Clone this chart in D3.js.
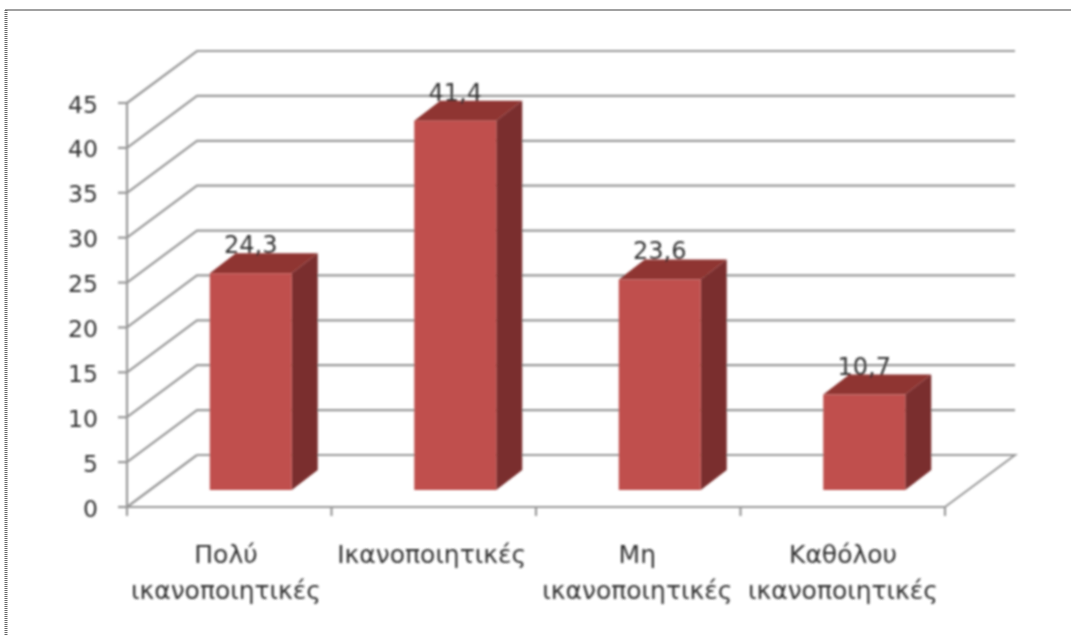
<!DOCTYPE html>
<html><head><meta charset="utf-8">
<script src="https://cdn.jsdelivr.net/npm/d3@7"></script>
<style>html,body{margin:0;padding:0;background:#fff}svg{display:block}text{font-family:"DejaVu Sans",sans-serif;fill:#333}</style>
</head><body><svg id="c" width="1071" height="636"></svg>
<script>
const categories=[["Πολύ","ικανοποιητικές"],["Ικανοποιητικές"],["Μη","ικανοποιητικές"],["Καθόλου","ικανοποιητικές"]];
const values=[24.3,41.4,23.6,10.7];
const valueLabels=["24,3","41,4","23,6","10,7"];
const yTicks=[0,5,10,15,20,25,30,35,40,45];

const svg=d3.select("#c");
const defs=svg.append("defs");
defs.append("filter").attr("id","soft").attr("filterUnits","userSpaceOnUse")
  .attr("x",0).attr("y",0).attr("width",1071).attr("height",636)
  .append("feGaussianBlur").attr("stdDeviation",0.8);
const root=svg.append("g").attr("filter","url(#soft)");

// page frame, kept crisp
svg.append("path").attr("d","M5,10H1071").attr("stroke","#a0a0a0").attr("stroke-width",2).attr("fill","none");
svg.append("path").attr("d","M6,10V636").attr("stroke","#666").attr("stroke-width",3).attr("stroke-dasharray","1 1").attr("fill","none");

const x0=127,x1=945,wallDx=70,wallDy=-52;
const y=d3.scaleLinear().domain([0,45]).range([507,103]);
const x=d3.scaleBand().domain(d3.range(categories.length)).range([x0,x1]);
const xLabel=d3.scalePoint().domain(d3.range(categories.length)).range([226,843]);
const yBar=d3.scaleLinear().domain([0,45]).range([490,88.6]);
const gridColor="#989898";

// gridlines: side wall + back wall
const line=d3.line();
root.append("g").selectAll("path").data(yTicks).join("path")
  .attr("d",t=>line(t===0
    ?[[x0,y(0)],[x0+wallDx,y(0)+wallDy]]
    :[[x0,y(t)],[x0+wallDx,y(t)+wallDy],[x1+wallDx,y(t)+wallDy]]))
  .attr("fill","none").attr("stroke",gridColor).attr("stroke-width",2.2);
root.append("path").attr("d",line([[x0+wallDx,y(0)+wallDy],[x1+wallDx,y(0)+wallDy],[x1,y(0)]]))
  .attr("fill","none").attr("stroke",gridColor).attr("stroke-width",2);

// axes
root.append("path").attr("d",line([[x0,y(45)],[x0,y(0)],[x1,y(0)]])).attr("fill","none").attr("stroke",gridColor).attr("stroke-width",2.2);
root.append("g").selectAll("path").data(yTicks).join("path")
  .attr("d",t=>line([[x0-9,y(t)],[x0,y(t)]])).attr("stroke",gridColor).attr("stroke-width",2.2);
root.append("g").selectAll("path").data(d3.range(categories.length+1)).join("path")
  .attr("d",i=>{const px=x0+i*x.step();return line([[px,y(0)],[px,y(0)+9]]);}).attr("stroke",gridColor).attr("stroke-width",2.2);

// y labels
root.append("g").selectAll("text").data(yTicks).join("text")
  .attr("x",98).attr("y",t=>y(t)+9.5).attr("text-anchor","end").attr("font-size",23.5).text(t=>t);

// bars
const barW=82,depthDx=26,depthDy=-20;
const bars=root.append("g").selectAll("g").data(values).join("g");
const bx=(d,i)=>x(i)+x.bandwidth()/2-barW/2+21.5;
const by=d=>yBar(d);
const baseY=yBar(0);
bars.append("path").attr("fill","#7a2f2d").attr("d",(d,i)=>{const l=bx(d,i)+barW;
  return line([[l,by(d)],[l+depthDx,by(d)+depthDy],[l+depthDx,baseY+depthDy],[l,baseY]])+"Z";});
bars.append("path").attr("fill","#8f3532").attr("d",(d,i)=>{const l=bx(d,i);
  return line([[l,by(d)],[l+depthDx,by(d)+depthDy],[l+barW+depthDx,by(d)+depthDy],[l+barW,by(d)]])+"Z";});
bars.append("rect").attr("fill","#c0504d").attr("x",(d,i)=>bx(d,i)).attr("y",by).attr("width",barW).attr("height",d=>baseY-by(d));

// value labels
root.append("g").selectAll("text").data(values).join("text")
  .attr("x",(d,i)=>bx(d,i)+barW/2).attr("y",d=>by(d)-20).attr("text-anchor","middle").attr("font-size",24)
  .text((d,i)=>valueLabels[i]);

// category labels
const cat=root.append("g").selectAll("text").data(categories).join("text")
  .attr("text-anchor","middle").attr("font-size",25);
cat.selectAll("tspan").data((d,i)=>d.map((s,j)=>({s,j,i}))).join("tspan")
  .attr("x",d=>xLabel(d.i)).attr("y",d=>563+d.j*36).text(d=>d.s);
</script></body></html>
